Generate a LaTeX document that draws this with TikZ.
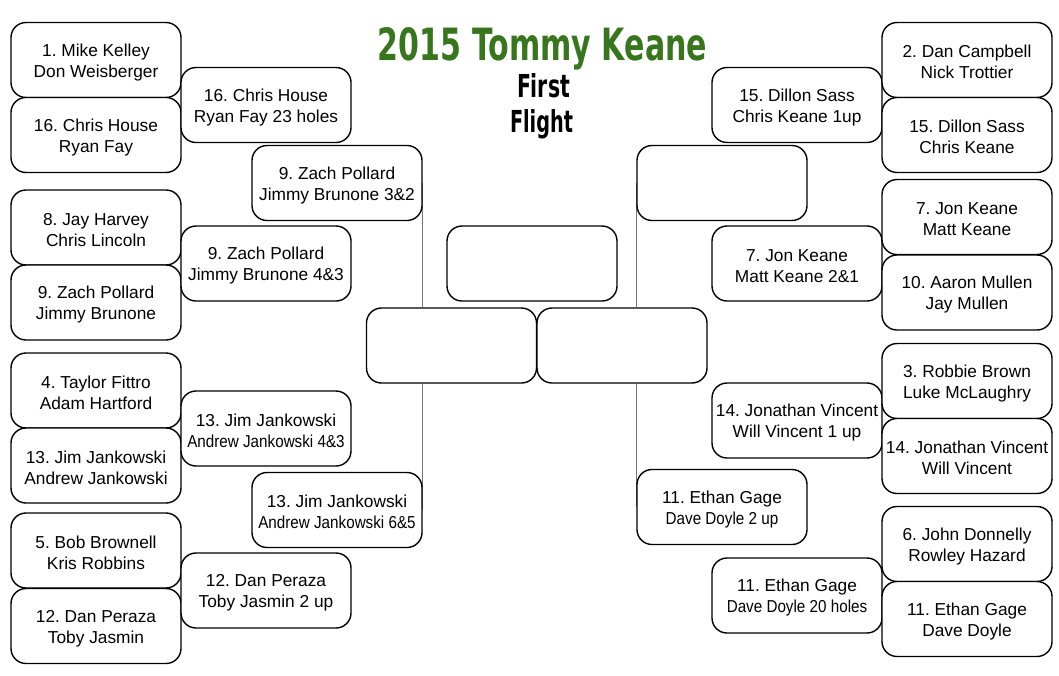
\documentclass[tikz,border=0pt]{standalone}
\usepackage{fontspec}
\usepackage{graphicx}
\setmainfont{Liberation Sans}
\newfontfamily\titlefont{DejaVu Sans}
\usetikzlibrary{backgrounds}
\definecolor{titlegreen}{RGB}{56,118,29}
\definecolor{linegray}{RGB}{118,118,118}
\frenchspacing
\newcommand\squeezed[1]{\scalebox{0.88}[1]{#1}}
\newcommand\pair[2]{\rule{0pt}{17pt}#1\\#2}
\begin{document}
\begin{tikzpicture}[x=1pt,y=-1pt,
  box/.style={draw, line width=1.4pt, rounded corners=15pt, minimum width=170pt,
    minimum height=75pt, inner sep=0pt, align=center, fill=white,
    font=\fontsize{17.3}{21}\selectfont\frenchspacing},
  conn/.style={draw=linegray, line width=1.5pt},
  heading/.style={anchor=base, inner sep=0pt}]
\useasboundingbox (0,0) rectangle (1059,675);

% title
\node[heading, text=titlegreen] (title) at (542.5,60) {\resizebox{329pt}{33pt}{\titlefont\bfseries 2015 Tommy Keane}};
\node[heading] (first) at (543.5,97) {\resizebox{53pt}{24pt}{\titlefont\bfseries First}};
\node[heading] (flight) at (541.5,132) {\resizebox{63pt}{23pt}{\titlefont\bfseries Flight}};

% left first round
\node[box] (L1) at (96,60) {\pair{1. Mike Kelley}{Don Weisberger}};
\node[box] (L2) at (96,135) {\pair{16. Chris House}{Ryan Fay}};
\node[box] (L3) at (96,227.5) {\pair{8. Jay Harvey}{Chris Lincoln}};
\node[box] (L4) at (96,302.5) {\pair{9. Zach Pollard}{Jimmy Brunone}};
\node[box] (L5) at (96,390.5) {\pair{4. Taylor Fittro}{Adam Hartford}};
\node[box] (L6) at (96,465.5) {\pair{13. Jim Jankowski}{Andrew Jankowski}};
\node[box] (L7) at (96,550.5) {\pair{5. Bob Brownell}{Kris Robbins}};
\node[box] (L8) at (96,626) {\pair{12. Dan Peraza}{Toby Jasmin}};

% left second round
\node[box] (S1) at (266,105) {\pair{16. Chris House}{Ryan Fay 23 holes}};
\node[box] (S2) at (266,263.5) {\pair{9. Zach Pollard}{Jimmy Brunone 4\&3}};
\node[box] (S3) at (266,428.5) {\pair{13. Jim Jankowski}{\squeezed{Andrew Jankowski 4\&3}}};
\node[box] (S4) at (266,590.5) {\pair{12. Dan Peraza}{Toby Jasmin 2 up}};

% left third round
\node[box] (T1) at (337,183) {\pair{9. Zach Pollard}{Jimmy Brunone 3\&2}};
\node[box] (T2) at (337,510) {\pair{13. Jim Jankowski}{\squeezed{Andrew Jankowski 6\&5}}};

% center
\node[box] (C) at (532,263.5) {};
\node[box] (CL) at (451.5,345.5) {};
\node[box] (CR) at (622,345.5) {};

% right third round
\node[box] (RT1) at (722,183) {};
\node[box] (RT2) at (722,507) {\pair{11. Ethan Gage}{\squeezed{Dave Doyle 2 up}}};

% right second round
\node[box] (RS1) at (797,105) {\pair{15. Dillon Sass}{Chris Keane 1up}};
\node[box] (RS2) at (797,263.5) {\pair{7. Jon Keane}{Matt Keane 2\&1}};
\node[box] (RS3) at (797,420.5) {\pair{14. Jonathan Vincent}{Will Vincent 1 up}};
\node[box] (RS4) at (797,595.5) {\pair{11. Ethan Gage}{\squeezed{Dave Doyle 20 holes}}};

% right first round
\node[box] (R1) at (967,60) {\pair{2. Dan Campbell}{Nick Trottier}};
\node[box] (R2) at (967,135) {\pair{15. Dillon Sass}{Chris Keane}};
\node[box] (R3) at (967,217) {\pair{7. Jon Keane}{Matt Keane}};
\node[box] (R4) at (967,292.5) {\pair{10. Aaron Mullen}{Jay Mullen}};
\node[box] (R5) at (967,381) {\pair{3. Robbie Brown}{Luke McLaughry}};
\node[box] (R6) at (967,456) {\pair{14. Jonathan Vincent}{Will Vincent}};
\node[box] (R7) at (967,544) {\pair{6. John Donnelly}{Rowley Hazard}};
\node[box] (R8) at (967,619) {\pair{11. Ethan Gage}{Dave Doyle}};

% connectors
\begin{scope}[on background layer]
\draw[conn] (T1.east) -- (T1.east |- CL.north);
\draw[conn] (T2.east) -- (T2.east |- CL.south);
\draw[conn] (RT1.west) -- (RT1.west |- CR.north);
\draw[conn] (RT2.west) -- (RT2.west |- CR.south);
\end{scope}
\end{tikzpicture}
\end{document}
